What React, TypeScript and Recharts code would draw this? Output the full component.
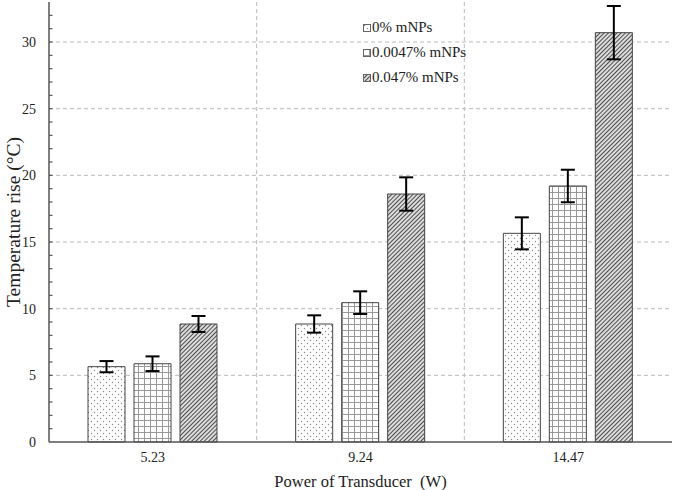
import React from "react";
import {
  BarChart,
  Bar,
  XAxis,
  YAxis,
  CartesianGrid,
  ErrorBar,
  Label,
} from "recharts";

const powers = ["5.23", "9.24", "14.47"];
const rise0 = [5.65, 8.85, 15.65];
const err0 = [0.42, 0.65, 1.2];
const rise1 = [5.87, 10.45, 19.2];
const err1 = [0.55, 0.85, 1.22];
const rise2 = [8.85, 18.6, 30.7];
const err2 = [0.6, 1.25, 2.0];
const seriesNames = ["0% mNPs", "0.0047% mNPs", "0.047% mNPs"];
const yMajor = [0, 5, 10, 15, 20, 25, 30];
const yTicks = Array.from({ length: 33 }, (_, i) => i);
const yMax = 33;

const data = powers.map((p, i) => ({
  power: p,
  r0: rise0[i],
  e0: err0[i],
  r1: rise1[i],
  e1: err1[i],
  r2: rise2[i],
  e2: err2[i],
}));

const FONT = "'Liberation Serif', 'Times New Roman', serif";
const AXIS = "#555";
const patterns = ["url(#dots)", "url(#grid)", "url(#hatch)"];

const YTick = (props: any) => {
  const { x, y, payload } = props;
  const v = payload.value;
  const major = yMajor.includes(v);
  return (
    <g>
      {v !== 0 && <line x1={x} x2={x + 3.5} y1={y} y2={y} stroke={AXIS} strokeWidth={1.2} />}
      {major && (
        <text x={x - 13} y={y} dy="0.35em" textAnchor="end" fontFamily={FONT} fontSize={14} fill="#222">
          {v}
        </text>
      )}
    </g>
  );
};

const LegendBox = () => (
  <div
    style={{
      position: "absolute",
      left: 363,
      top: 15,
      fontFamily: FONT,
      fontSize: 15,
      color: "#222",
      pointerEvents: "none",
    }}
  >
    {seriesNames.map((n, i) => (
      <div key={n} style={{ height: 25, display: "flex", alignItems: "center", whiteSpace: "nowrap" }}>
        <svg width={8} height={8} style={{ marginRight: 1 }}>
          <rect x={0.5} y={0.5} width={7} height={7} fill={patterns[i]} stroke="#666" />
        </svg>
        <span>{n}</span>
      </div>
    ))}
  </div>
);

export default function App() {
  return (
    <div style={{ position: "absolute", left: 0, top: 0, width: 675, height: 490, background: "#fff" }}>
      <BarChart
        width={675}
        height={490}
        data={data}
        margin={{ top: 2, right: 3, bottom: 0, left: 0 }}
        barSize={37}
        barGap={9}
      >
        <defs>
          <pattern id="dots" width="6" height="6" patternUnits="userSpaceOnUse">
            <rect width="6" height="6" fill="#fff" />
            <circle cx="1.5" cy="1.5" r="0.7" fill="#888" />
            <circle cx="4.5" cy="4.5" r="0.7" fill="#888" />
          </pattern>
          <pattern id="grid" width="6" height="6" patternUnits="userSpaceOnUse">
            <rect width="6" height="6" fill="#fff" />
            <path d="M0 0.5 H6 M0.5 0 V6" stroke="#999" strokeWidth="1" />
          </pattern>
          <pattern id="hatch" width="3" height="3" patternUnits="userSpaceOnUse" patternTransform="rotate(45)">
            <rect width="3" height="3" fill="#ddd" />
            <line x1="0" y1="0" x2="0" y2="3" stroke="#444" strokeWidth="1.9" />
          </pattern>
        </defs>
        <CartesianGrid
          stroke="#bbb"
          strokeDasharray="4 3"
          verticalCoordinatesGenerator={({ offset }: any) =>
            [1, 2].map((k) => offset.left + (offset.width * k) / powers.length)
          }
          horizontalCoordinatesGenerator={({ offset }: any) =>
            yMajor.filter((v) => v > 0).map((v) => offset.top + offset.height * (1 - v / yMax))
          }
        />
        <XAxis
          dataKey="power"
          height={48}
          tickLine={false}
          tickSize={0}
          tickMargin={10}
          axisLine={{ stroke: AXIS, strokeWidth: 1.5 }}
          tick={{ fontFamily: FONT, fontSize: 14, fill: "#222" }}
        >
          <Label
            value={"Power of Transducer \u00A0(W)"}
            position="insideBottom"
            offset={3}
            style={{ fontFamily: FONT, fontSize: 16.5, fill: "#222" }}
          />
        </XAxis>
        <XAxis
          xAxisId="top"
          dataKey="power"
          orientation="top"
          height={0}
          tick={false}
          tickLine={false}
          axisLine={{ stroke: AXIS, strokeWidth: 1.5 }}
        />
        <YAxis
          type="number"
          domain={[0, yMax]}
          ticks={yTicks}
          interval={0}
          width={49}
          tickSize={0}
          tickMargin={0}
          tickLine={false}
          tick={<YTick />}
          axisLine={{ stroke: AXIS, strokeWidth: 1.5 }}
        >
          <Label
            value="Temperature rise (°C)"
            angle={-90}
            position="insideLeft"
            offset={13}
            style={{ fontFamily: FONT, fontSize: 19.5, fill: "#222", textAnchor: "middle" }}
          />
        </YAxis>
        <YAxis
          yAxisId="right"
          type="number"
          domain={[0, yMax]}
          orientation="right"
          width={0}
          tick={false}
          tickLine={false}
          axisLine={{ stroke: AXIS, strokeWidth: 1.5 }}
        />
        <Bar dataKey="r0" name={seriesNames[0]} fill={patterns[0]} stroke="#444" strokeWidth={1} isAnimationActive={false}>
          <ErrorBar dataKey="e0" width={7} stroke="#000" strokeWidth={2} />
        </Bar>
        <Bar dataKey="r1" name={seriesNames[1]} fill={patterns[1]} stroke="#444" strokeWidth={1} isAnimationActive={false}>
          <ErrorBar dataKey="e1" width={7} stroke="#000" strokeWidth={2} />
        </Bar>
        <Bar dataKey="r2" name={seriesNames[2]} fill={patterns[2]} stroke="#444" strokeWidth={1} isAnimationActive={false}>
          <ErrorBar dataKey="e2" width={7} stroke="#000" strokeWidth={2} />
        </Bar>
      </BarChart>
      <LegendBox />
    </div>
  );
}
